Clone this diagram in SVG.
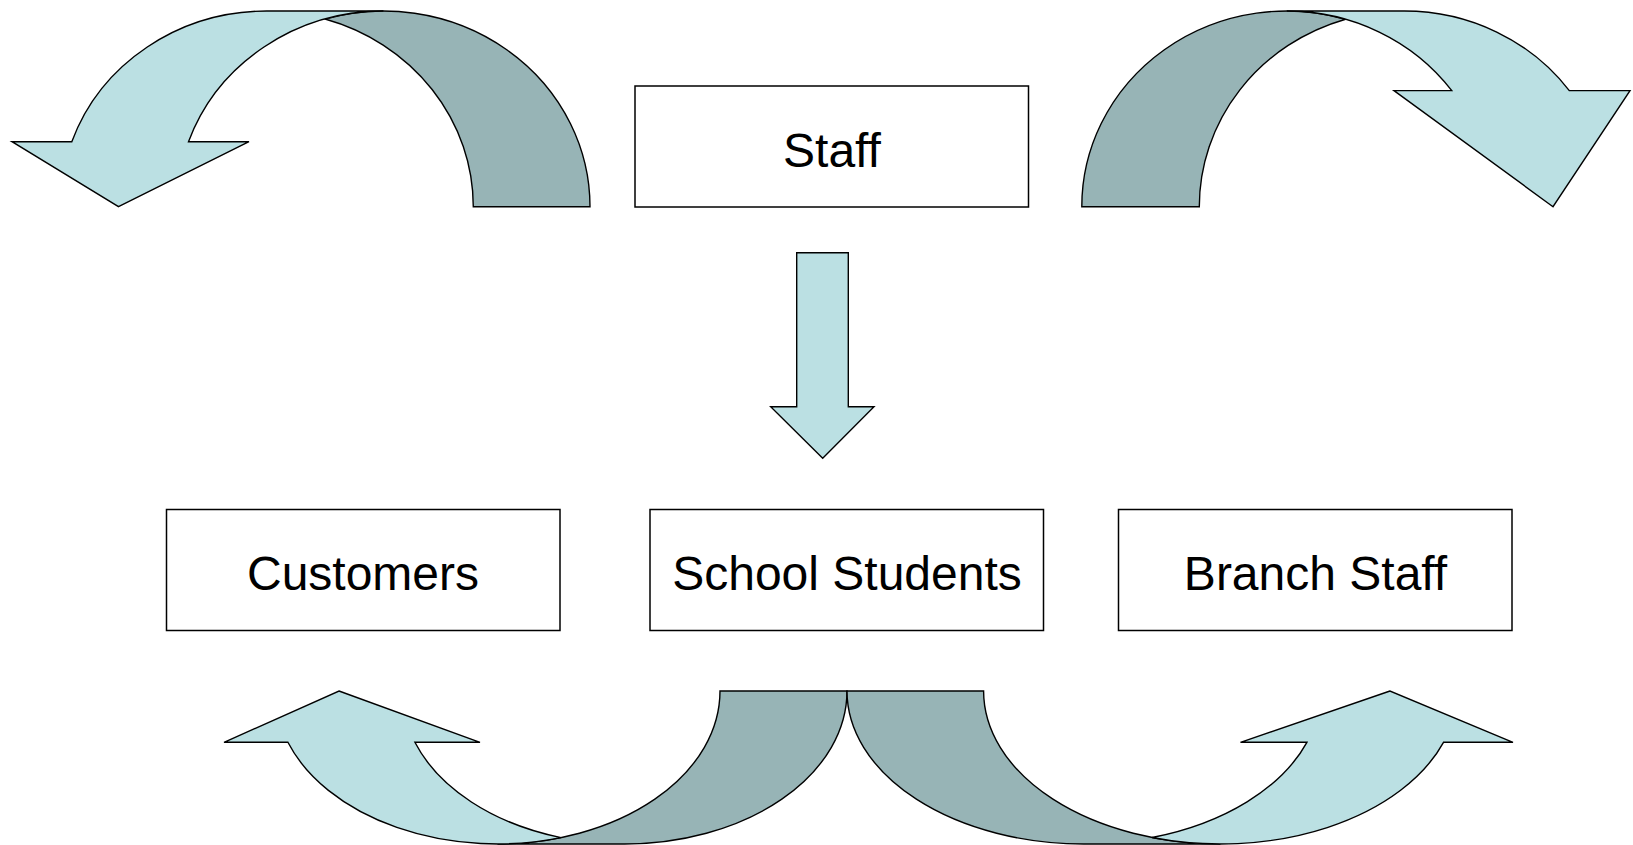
<svg xmlns="http://www.w3.org/2000/svg" width="1633" height="845" viewBox="0 0 1633 845">
  <style>
    .box { fill: #ffffff; stroke: #000000; stroke-width: 1.5; }
    .label { font-family: "Liberation Sans", Arial, sans-serif; font-size: 48px; fill: #000000; text-anchor: middle; }
    .front { fill: #BBE0E3; stroke: #000000; stroke-width: 1.4; stroke-linejoin: miter; }
    .back { fill: #97B4B6; stroke: #000000; stroke-width: 1.4; stroke-linejoin: miter; }
  </style>
  <rect width="1633" height="845" fill="#ffffff"/>

  <!-- curved arrows and the straight down arrow -->
  <g id="connectors">
    <!-- top left: curved down arrow, mirrored (arrowhead on the left) -->
    <g id="arrow-top-left">
      <path class="back" d="M 325.05,18.97 A 206.6 195.7 0 0 1 473.3,206.7 L 590,206.7 A 206.6 195.7 0 0 0 325.05,18.97 Z"/>
      <path class="front" d="M 118.5,206.7 L 249,141.7 L 188.5,141.7 A 206.6 195.7 0 0 1 383.4,11 L 266.7,11 A 206.6 195.7 0 0 0 71.8,141.7 L 12,141.7 Z"/>
    </g>
    <!-- top right: curved down arrow (arrowhead on the right) -->
    <g id="arrow-top-right">
      <path class="back" d="M 1345.55,19.21 A 205 195.7 0 0 0 1199.3,206.7 L 1081.8,206.7 A 205 195.7 0 0 1 1345.55,19.21 Z"/>
      <path class="front" d="M 1553,206.7 L 1394,90.6 L 1451.8,90.6 A 205 195.7 0 0 0 1286.8,11 L 1404.3,11 A 205 195.7 0 0 1 1569.3,90.6 L 1630,90.6 Z"/>
    </g>
    <!-- straight arrow from Staff down to the lower row -->
    <path id="arrow-down" class="front" d="M 796.7,252.7 L 848.3,252.7 L 848.3,406.7 L 874,406.7 L 822.7,458.3 L 770.7,406.7 L 796.7,406.7 Z"/>
    <!-- bottom left: curved up arrow, mirrored (arrowhead on the left) -->
    <g id="arrow-bottom-left">
      <path class="back" d="M 847,691 A 222.5 153 0 0 1 624.5,844 L 497.5,844 A 222.5 153 0 0 0 720,691 Z"/>
      <path class="front" d="M 339,691 L 480,742.3 L 414.9,742.3 A 222.5 153 0 0 0 561,837.6 A 222.5 153 0 0 1 287.9,742.3 L 224,742.3 Z"/>
    </g>
    <!-- bottom right: curved up arrow (arrowhead on the right) -->
    <g id="arrow-bottom-right">
      <path class="back" d="M 847,691 A 236.8 153 0 0 0 1083.8,844 L 1220.4,844 A 236.8 153 0 0 1 983.6,691 Z"/>
      <path class="front" d="M 1390,691 L 1240.5,742.3 L 1306.9,742.3 A 236.8 153 0 0 1 1152.1,837.5 A 236.8 153 0 0 0 1443.5,742.3 L 1513,742.3 Z"/>
    </g>
  </g>

  <g id="node-staff">
    <rect class="box" x="635" y="86" width="393.5" height="121"/>
    <text class="label" x="832" y="166.5">Staff</text>
  </g>
  <g id="node-customers">
    <rect class="box" x="166.5" y="509.5" width="393.5" height="121"/>
    <text class="label" x="363" y="590">Customers</text>
  </g>
  <g id="node-school-students">
    <rect class="box" x="650" y="509.5" width="393.5" height="121"/>
    <text class="label" x="847" y="590">School Students</text>
  </g>
  <g id="node-branch-staff">
    <rect class="box" x="1118.5" y="509.5" width="393.5" height="121"/>
    <text class="label" x="1315.5" y="590">Branch Staff</text>
  </g>
</svg>
